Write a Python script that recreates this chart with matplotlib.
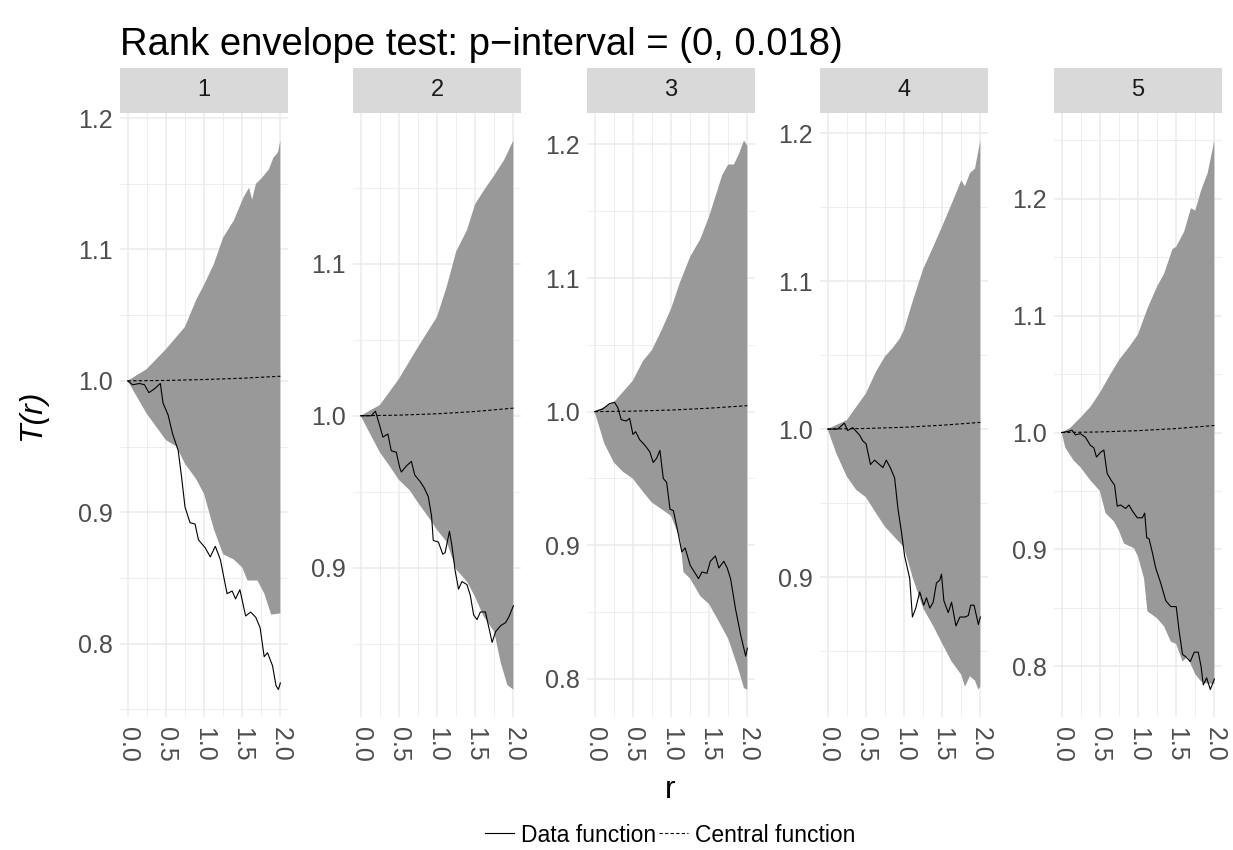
import numpy as np
import matplotlib
matplotlib.use("Agg")
import matplotlib.pyplot as plt
from matplotlib.lines import Line2D
from matplotlib.ticker import MultipleLocator

plt.rcParams['font.family'] = ['Liberation Sans', 'DejaVu Sans']

# ---- data (r, value) per panel ----
p1_up_r = [0, 0.25, 0.5, 0.75, 0.9, 1.0, 1.13, 1.25, 1.39, 1.52, 1.59, 1.63, 1.68, 1.75, 1.85, 1.91, 1.97, 2.0]
p1_up = [1.0, 1.009, 1.024, 1.041, 1.062, 1.073, 1.089, 1.109, 1.122, 1.140, 1.147, 1.138, 1.150, 1.154,
         1.161, 1.170, 1.174, 1.183]
p1_lo_r = [0, 0.25, 0.5, 0.64, 0.75, 0.9, 1.0, 1.13, 1.25, 1.39, 1.5, 1.57, 1.7, 1.79, 1.88, 2.0]
p1_lo = [1.0, 0.975, 0.955, 0.950, 0.937, 0.925, 0.914, 0.887, 0.868, 0.864, 0.858, 0.848, 0.848, 0.838, 0.822, 0.823]
p1_dat_r = [0, 0.066, 0.155, 0.221, 0.278, 0.353, 0.428, 0.464, 0.530, 0.587, 0.662, 0.706, 0.751, 0.817,
            0.883, 0.927, 1.015, 1.082, 1.148, 1.214, 1.302, 1.369, 1.413, 1.470, 1.545, 1.611, 1.678,
            1.735, 1.788, 1.832, 1.898, 1.943, 1.974, 2.0]
p1_dat = [1.0, 0.997, 0.998, 0.997, 0.991, 0.994, 0.998, 0.983, 0.974, 0.960, 0.947, 0.927, 0.904, 0.892,
          0.891, 0.879, 0.873, 0.866, 0.874, 0.864, 0.838, 0.840, 0.834, 0.841, 0.821, 0.824, 0.820,
          0.812, 0.790, 0.793, 0.783, 0.768, 0.765, 0.770]
p1_cen = [1.0, 1.0003, 1.001, 1.002, 1.0035]

p2_up_r = [0, 0.251, 0.498, 0.749, 1.0, 1.128, 1.251, 1.392, 1.498, 1.612, 1.749, 1.877, 2.0]
p2_up = [1.0, 1.007, 1.024, 1.045, 1.065, 1.085, 1.108, 1.122, 1.139, 1.148, 1.158, 1.168, 1.181]
p2_lo_r = [0, 0.251, 0.379, 0.498, 0.643, 0.749, 0.907, 1.0, 1.128, 1.251, 1.392, 1.498, 1.612, 1.749,
           1.833, 1.921, 2.0]
p2_lo = [1.0, 0.976, 0.967, 0.958, 0.951, 0.943, 0.932, 0.925, 0.917, 0.899, 0.891, 0.881, 0.868, 0.858,
         0.838, 0.823, 0.820]
p2_dat_r = [0, 0.137, 0.194, 0.247, 0.291, 0.357, 0.401, 0.467, 0.511, 0.533, 0.599, 0.665, 0.709, 0.775,
            0.828, 0.885, 0.929, 0.951, 1.018, 1.075, 1.106, 1.163, 1.194, 1.238, 1.282, 1.326, 1.392,
            1.436, 1.480, 1.524, 1.568, 1.634, 1.678, 1.722, 1.767, 1.833, 1.899, 1.943, 2.0]
p2_dat = [1.0, 1.0, 1.003, 0.994, 0.986, 0.988, 0.977, 0.976, 0.966, 0.963, 0.967, 0.970, 0.961, 0.957,
          0.953, 0.947, 0.934, 0.918, 0.917, 0.909, 0.910, 0.924, 0.915, 0.898, 0.886, 0.891, 0.889,
          0.882, 0.869, 0.866, 0.871, 0.871, 0.861, 0.851, 0.858, 0.862, 0.864, 0.868, 0.875]
p2_cen = [1.0, 1.0004, 1.0013, 1.0028, 1.005]

p3_up_r = [0, 0.251, 0.498, 0.634, 0.749, 0.877, 1.0, 1.119, 1.251, 1.383, 1.498, 1.604, 1.670, 1.749,
           1.824, 1.890, 1.956, 2.0]
p3_up = [1.0, 1.007, 1.023, 1.038, 1.046, 1.061, 1.077, 1.097, 1.116, 1.129, 1.146, 1.165, 1.177, 1.185,
         1.185, 1.193, 1.203, 1.199]
p3_lo_r = [0, 0.128, 0.251, 0.370, 0.498, 0.634, 0.749, 0.877, 1.0, 1.119, 1.163, 1.251, 1.383, 1.498,
           1.626, 1.749, 1.868, 1.956, 2.0]
p3_lo = [1.0, 0.976, 0.962, 0.955, 0.950, 0.940, 0.932, 0.927, 0.922, 0.905, 0.880, 0.875, 0.862, 0.856,
         0.843, 0.830, 0.810, 0.793, 0.792]
p3_dat_r = [0, 0.106, 0.194, 0.260, 0.304, 0.348, 0.414, 0.458, 0.502, 0.537, 0.590, 0.656, 0.722, 0.767,
            0.811, 0.855, 0.899, 0.943, 0.987, 1.031, 1.097, 1.141, 1.185, 1.251, 1.317, 1.361, 1.405,
            1.471, 1.515, 1.581, 1.626, 1.692, 1.736, 1.780, 1.846, 1.912, 1.978, 2.0]
p3_dat = [1.0, 1.002, 1.006, 1.007, 1.003, 0.994, 0.993, 0.995, 0.983, 0.985, 0.979, 0.975, 0.970, 0.962,
          0.965, 0.971, 0.950, 0.947, 0.927, 0.926, 0.908, 0.895, 0.898, 0.885, 0.879, 0.875, 0.880,
          0.879, 0.888, 0.892, 0.883, 0.888, 0.883, 0.875, 0.852, 0.833, 0.817, 0.823]
p3_cen = [1.0, 1.0004, 1.0012, 1.0026, 1.0045]

p4_up_r = [0, 0.25, 0.5, 0.636, 0.75, 0.855, 0.943, 1.0, 1.118, 1.25, 1.382, 1.5, 1.623, 1.75, 1.798,
           1.864, 1.930, 2.0]
p4_up = [1.0, 1.006, 1.024, 1.039, 1.049, 1.055, 1.061, 1.067, 1.087, 1.108, 1.123, 1.137, 1.152, 1.168,
         1.164, 1.173, 1.176, 1.195]
p4_lo_r = [0, 0.110, 0.25, 0.373, 0.5, 0.636, 0.75, 0.877, 1.0, 1.118, 1.25, 1.382, 1.5, 1.623, 1.75,
           1.798, 1.864, 1.930, 1.974, 2.0]
p4_lo = [1.0, 0.984, 0.968, 0.959, 0.954, 0.943, 0.934, 0.927, 0.920, 0.899, 0.879, 0.867, 0.855, 0.843,
         0.834, 0.826, 0.833, 0.830, 0.824, 0.826]
p4_dat_r = [0, 0.132, 0.219, 0.263, 0.329, 0.382, 0.417, 0.461, 0.504, 0.561, 0.614, 0.680, 0.724, 0.768,
            0.820, 0.877, 0.921, 0.965, 1.009, 1.075, 1.110, 1.154, 1.206, 1.259, 1.294, 1.338, 1.382,
            1.425, 1.469, 1.491, 1.522, 1.579, 1.623, 1.680, 1.732, 1.798, 1.842, 1.873, 1.917, 1.974, 2.0]
p4_dat = [1.0, 1.0, 1.004, 0.999, 1.001, 0.998, 0.996, 0.992, 0.990, 0.976, 0.979, 0.976, 0.974, 0.979,
          0.974, 0.967, 0.946, 0.931, 0.914, 0.899, 0.873, 0.879, 0.890, 0.881, 0.886, 0.879, 0.883,
          0.896, 0.898, 0.902, 0.884, 0.876, 0.883, 0.867, 0.873, 0.873, 0.874, 0.881, 0.881, 0.868, 0.873]
p4_cen = [1.0, 1.0004, 1.0012, 1.0026, 1.0045]

p5_up_r = [0, 0.114, 0.25, 0.377, 0.5, 0.640, 0.75, 0.882, 1.0, 1.123, 1.25, 1.342, 1.452, 1.5, 1.605,
           1.693, 1.75, 1.825, 1.912, 2.0]
p5_up = [1.0, 1.004, 1.013, 1.022, 1.034, 1.050, 1.062, 1.073, 1.084, 1.106, 1.125, 1.136, 1.157, 1.159,
         1.172, 1.192, 1.190, 1.207, 1.222, 1.250]
p5_lo_r = [0, 0.048, 0.158, 0.25, 0.377, 0.5, 0.575, 0.684, 0.75, 0.816, 0.947, 1.0, 1.079, 1.123, 1.25,
           1.342, 1.430, 1.5, 1.583, 1.649, 1.75, 1.825, 1.912, 2.0]
p5_lo = [1.0, 0.987, 0.976, 0.970, 0.959, 0.950, 0.931, 0.924, 0.916, 0.905, 0.901, 0.894, 0.875, 0.847,
         0.841, 0.834, 0.821, 0.819, 0.804, 0.808, 0.793, 0.787, 0.785, 0.785]
p5_dat_r = [0, 0.092, 0.136, 0.180, 0.246, 0.311, 0.377, 0.421, 0.456, 0.509, 0.553, 0.596, 0.649, 0.693,
            0.728, 0.772, 0.838, 0.882, 0.925, 0.991, 1.057, 1.088, 1.114, 1.145, 1.189, 1.232, 1.298,
            1.364, 1.430, 1.5, 1.539, 1.583, 1.627, 1.684, 1.737, 1.789, 1.825, 1.855, 1.899, 1.947, 2.0]
p5_dat = [1.0, 1.001, 1.002, 0.998, 0.999, 0.996, 0.989, 0.987, 0.979, 0.983, 0.985, 0.965, 0.959, 0.955,
          0.937, 0.938, 0.935, 0.938, 0.933, 0.927, 0.927, 0.931, 0.910, 0.909, 0.897, 0.884, 0.871,
          0.856, 0.851, 0.851, 0.830, 0.810, 0.808, 0.804, 0.812, 0.812, 0.800, 0.784, 0.790, 0.780, 0.789]
p5_cen = [1.0, 1.0005, 1.0016, 1.0034, 1.006]

cen_r = [0, 0.5, 1.0, 1.5, 2.0]
panel_names = ['1', '2', '3', '4', '5']

panels = [
    (p1_up_r, p1_up, p1_lo_r, p1_lo, p1_dat_r, p1_dat, p1_cen),
    (p2_up_r, p2_up, p2_lo_r, p2_lo, p2_dat_r, p2_dat, p2_cen),
    (p3_up_r, p3_up, p3_lo_r, p3_lo, p3_dat_r, p3_dat, p3_cen),
    (p4_up_r, p4_up, p4_lo_r, p4_lo, p4_dat_r, p4_dat, p4_cen),
    (p5_up_r, p5_up, p5_lo_r, p5_lo, p5_dat_r, p5_dat, p5_cen),
]

W, H = 1233, 850
fig = plt.figure(figsize=(W / 100, H / 100), dpi=100)

lefts = [120, 353, 587, 820, 1054]
pw = 168
top, bottom = 113, 717
strip_h = 45
grid_col = '#ebebeb'

for i, (ur, u, lr, lo, dr, d, c) in enumerate(panels):
    x0 = lefts[i] / W
    ax = fig.add_axes([x0, (H - bottom) / H, pw / W, (bottom - top) / H])
    poly_r = np.concatenate([ur, lr[::-1]])
    poly_v = np.concatenate([u, lo[::-1]])
    ax.fill(poly_r, poly_v, color='#999999', lw=0, zorder=2)
    ax.plot(cen_r, c, color='black', lw=0.8, ls=(0, (3, 2)), zorder=3)
    ax.plot(dr, d, color='black', lw=0.8, zorder=4)
    ax.margins(x=0.05, y=0.05)

    ax.xaxis.set_major_locator(MultipleLocator(0.5))
    ax.xaxis.set_minor_locator(MultipleLocator(0.25))
    ax.yaxis.set_major_locator(MultipleLocator(0.1))
    ax.yaxis.set_minor_locator(MultipleLocator(0.05))
    ax.xaxis.set_major_formatter(matplotlib.ticker.FormatStrFormatter('%.1f'))
    ax.yaxis.set_major_formatter(matplotlib.ticker.FormatStrFormatter('%.1f'))
    ax.grid(which='major', color=grid_col, lw=1.1, zorder=0)
    ax.grid(which='minor', color=grid_col, lw=0.6, zorder=0)
    ax.set_axisbelow(True)
    for s in ax.spines.values():
        s.set_visible(False)
    ax.tick_params(which='both', length=0, labelsize=18, labelcolor='#4d4d4d')
    ax.tick_params(axis='x', pad=7, labelrotation=270)
    ax.tick_params(axis='y', pad=5)

    sax = fig.add_axes([x0, (H - top) / H, pw / W, strip_h / H])
    sax.set_facecolor('#d9d9d9')
    sax.set_xticks([])
    sax.set_yticks([])
    for s in sax.spines.values():
        s.set_visible(False)
    sax.text(0.5, 0.5, panel_names[i], ha='center', va='center', fontsize=17, color='#1a1a1a',
             transform=sax.transAxes)

fig.text(120 / W, 1 - 55 / H, 'Rank envelope test: p\u2212interval = (0, 0.018)', fontsize=27.5,
         ha='left', va='baseline', color='black')
fig.text(670 / W, 1 - 790 / H, 'r', fontsize=23, ha='center', va='center')
fig.text(32 / W, 1 - 415 / H, 'T(r)', fontsize=23, style='italic', rotation=90, ha='center', va='center')

handles = [Line2D([], [], color='black', lw=0.8),
           Line2D([], [], color='black', lw=0.8, ls=(0, (3, 2)))]
fig.legend(handles, ['Data function', 'Central function'], loc='center',
           bbox_to_anchor=(670 / W, 1 - 835 / H), ncol=2, frameon=False, fontsize=16.5,
           handlelength=1.25, handletextpad=0.3, columnspacing=0.15, borderaxespad=0)

fig.savefig('out.png', dpi=100)
